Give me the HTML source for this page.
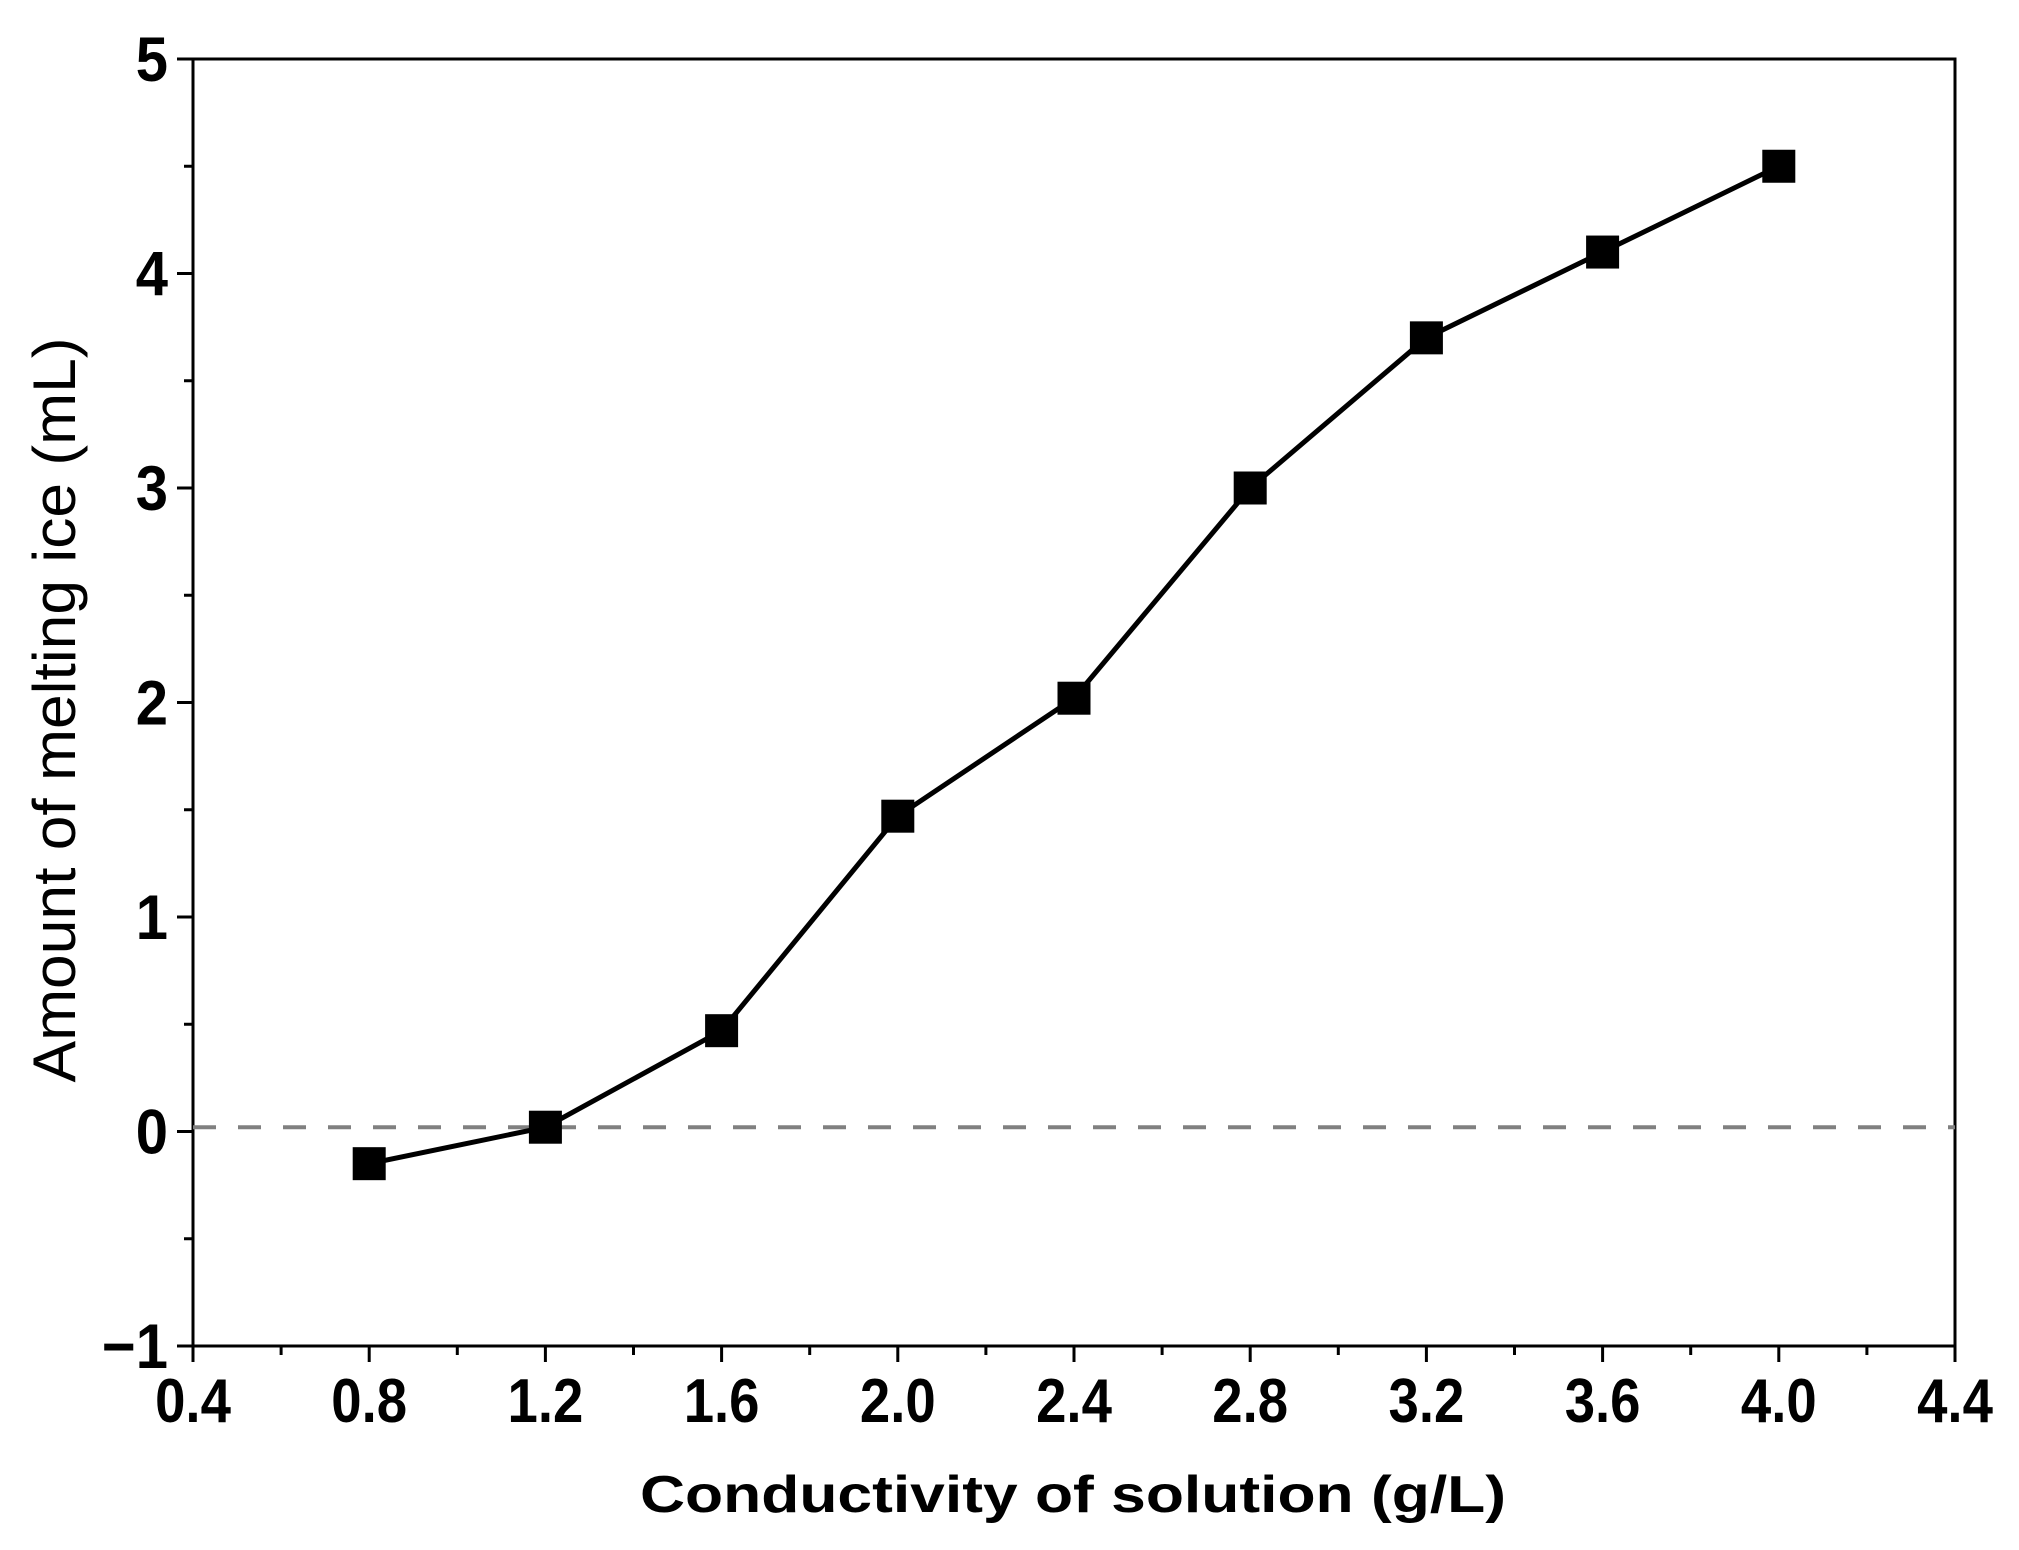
<!DOCTYPE html>
<html><head><meta charset="utf-8"><style>
html,body{margin:0;padding:0;background:#fff;}
svg{display:block;font-family:"Liberation Sans",Arial,sans-serif;}
</style></head><body>
<svg id="chart" width="2019" height="1550" viewBox="0 0 2019 1550">
<g id="axes"></g>
<g id="series"></g>
</svg>
<script>
const xValues = [0.8, 1.2, 1.6, 2.0, 2.4, 2.8, 3.2, 3.6, 4.0];
const yValues = [-0.15, 0.02, 0.47, 1.47, 2.02, 3.0, 3.7, 4.1, 4.5];
const xTicks = [0.4, 0.8, 1.2, 1.6, 2.0, 2.4, 2.8, 3.2, 3.6, 4.0, 4.4];
const xTickLabels = ["0.4","0.8","1.2","1.6","2.0","2.4","2.8","3.2","3.6","4.0","4.4"];
const yTicks = [-1, 0, 1, 2, 3, 4, 5];
const yTickLabels = ["\u22121","0","1","2","3","4","5"];
const refLineValue = [0.02];

const L=193,R=1955,T=59,B=1346;
const xMin=0.4,xMax=4.4,yMin=-1,yMax=5;
function sx(v){return L+(v-xMin)/(xMax-xMin)*(R-L);}
function sy(v){return B-(v-yMin)/(yMax-yMin)*(B-T);}
const NS="http://www.w3.org/2000/svg";
function mk(tag,attrs,parent){const e=document.createElementNS(NS,tag);for(const k in attrs)e.setAttribute(k,attrs[k]);parent.appendChild(e);return e;}
const axes=document.getElementById('axes');
const series=document.getElementById('series');

const frame=mk('rect',{x:L,y:T,width:R-L,height:B-T,fill:'none',stroke:'#000','stroke-width':3},axes);



xTicks.forEach((v,i)=>{
  const x=sx(v);
  const t=mk('line',{x1:x,y1:B,x2:x,y2:B+16,stroke:'#000','stroke-width':3},axes);
  
  
  const lb=mk('text',{x:0,y:0,'text-anchor':'middle','font-size':62,'font-weight':'bold',transform:'translate('+x+',1422) scale(0.88,1)'},axes);
  lb.textContent=xTickLabels[i];
  
  
  if(i<xTicks.length-1){
    const xm=sx(v+0.2);
    const m=mk('line',{x1:xm,y1:B,x2:xm,y2:B+9,stroke:'#000','stroke-width':3},axes);
    
    
  }
});
yTicks.forEach((v,i)=>{
  const y=sy(v);
  const t=mk('line',{x1:L-16,y1:y,x2:L,y2:y,stroke:'#000','stroke-width':3},axes);
  
  
  const lb=mk('text',{x:0,y:0,'text-anchor':'end','font-size':63,'font-weight':'bold',transform:'translate(168,'+(y+22)+') scale(0.92,1)'},axes);
  lb.textContent=yTickLabels[i];
  
  
  if(i<yTicks.length-1){
    const ym=sy(v+0.5);
    const m=mk('line',{x1:L-9,y1:ym,x2:L,y2:ym,stroke:'#000','stroke-width':3},axes);
    
    
  }
});
const xt=mk('text',{x:1073,y:1512,'text-anchor':'middle','font-size':52,'font-weight':'bold',textLength:866,lengthAdjust:'spacingAndGlyphs'},axes);
xt.textContent='Conductivity of solution (g/L)';


const yt=mk('text',{x:0,y:0,'text-anchor':'middle','font-size':60,transform:'translate(75,710) rotate(-90)',textLength:745,lengthAdjust:'spacingAndGlyphs'},axes);
yt.textContent='Amount of melting ice (mL)';



const ref=mk('line',{x1:L,y1:sy(refLineValue[0]),x2:R,y2:sy(refLineValue[0]),stroke:'#808080','stroke-width':4,'stroke-dasharray':'23 22'},series);



const pts=xValues.map((v,i)=>sx(v)+','+sy(yValues[i])).join(' ');
const pl=mk('polyline',{points:pts,fill:'none',stroke:'#000','stroke-width':5},series);


xValues.forEach((v,i)=>{
  const s=33;
  const r=mk('rect',{x:sx(v)-s/2,y:sy(yValues[i])-s/2,width:s,height:s,fill:'#000'},series);
  
  
});
</script>
</body></html>
